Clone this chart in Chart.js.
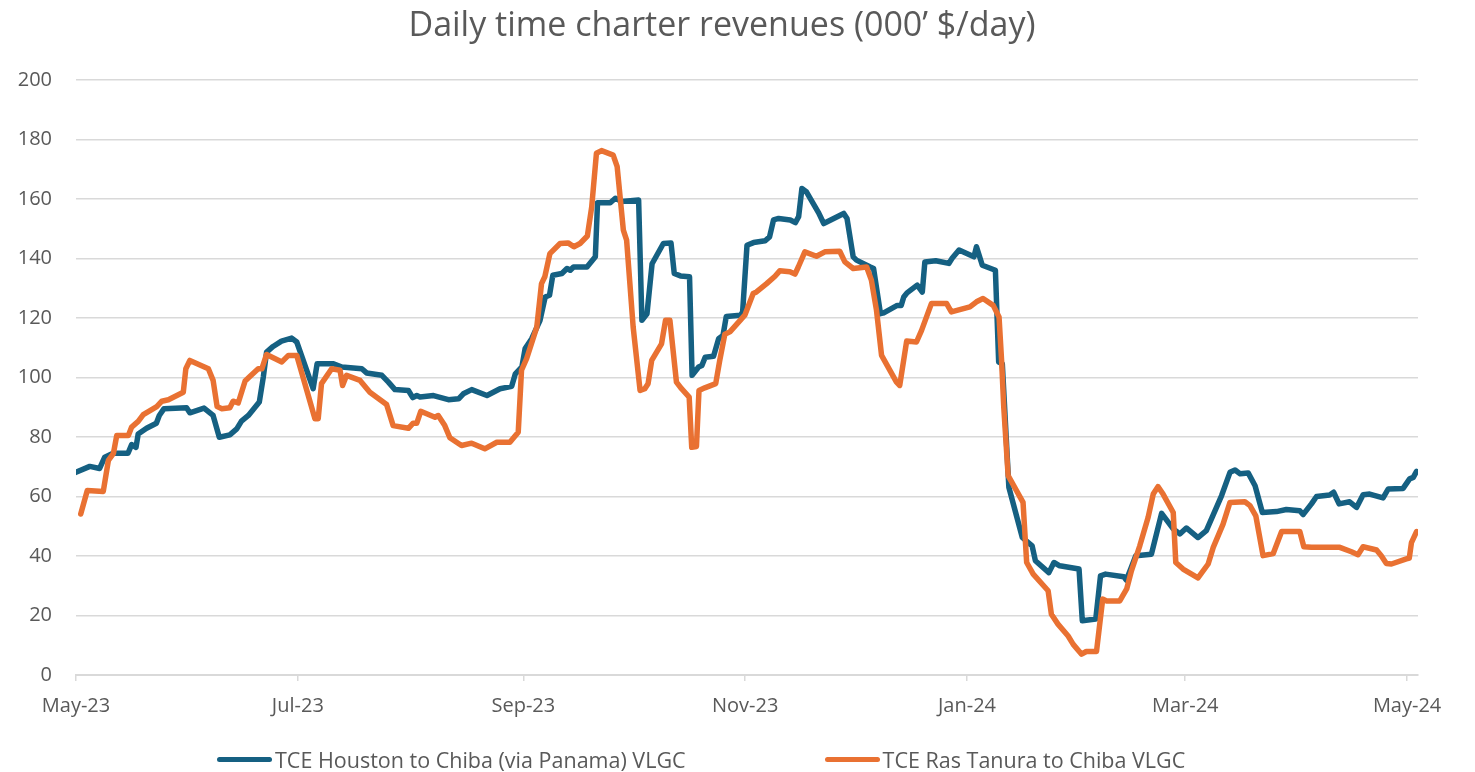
<!DOCTYPE html>
<html>
<head>
<meta charset="utf-8">
<script src="https://cdn.jsdelivr.net/npm/chart.js@4.4.1/dist/chart.umd.min.js"></script>
<style>
  html, body { margin: 0; padding: 0; background: #fff; }
  #wrap { position: relative; width: 1475px; height: 772px; }
  #legend { position: absolute; left: 217px; top: 745px; display: flex; gap: 139px; font-family: "Open Sans", sans-serif; font-size: 21.5px; color: #595959; }
  #legend .item { display: flex; align-items: center; white-space: nowrap; }
  #legend .swatch { width: 55px; height: 5px; border-radius: 3px; margin-right: 3px; }
</style>
</head>
<body>
<div id="wrap">
  <canvas id="myChart" width="1475" height="772"></canvas>
  <div id="legend"></div>
</div>
<script>
// days counted from 1 May 2023
const monthDays = [0, 61, 123, 184, 245, 305, 366];
const monthLabels = ["May-23", "Jul-23", "Sep-23", "Nov-23", "Jan-24", "Mar-24", "May-24"];

const houstonDays = [0, 3.8, 6.5, 7.9, 10.2, 14.3, 15.3, 16.5, 17.1, 19.4, 22.1, 22.9, 24.2, 30.4, 31.3, 35.2, 37.7, 39.4,
  42.3, 44.2, 45.5, 47.4, 50.4, 51.5, 52.4, 54.2, 56.5, 59.3, 60.7, 65.2, 66.3, 70.8, 73.1, 78.6, 79.9, 84.1,
  85.9, 87.7, 91.4, 92.6, 93.7, 94.6, 98.3, 102.4, 105.2, 106.5, 108.8, 113, 116.6, 119.8, 120.8, 122.6, 123.5,
  125.3, 127.6, 129, 130.2, 131.1, 133.6, 135, 135.9, 136.8, 140.5, 142.8, 143.4, 146.9, 148.3, 150.1, 154.7,
  155.6, 157, 158.4, 161.5, 163.6, 164.5, 166.2, 168.7, 169.4, 171.2, 172.1, 173, 175.3, 176.7, 177.9, 178.8,
  182.7, 183.3, 184.5, 186.3, 189.5, 190.7, 191.8, 193.2, 196.4, 197.8, 198.7, 199.6, 200.8, 204.2, 205.6,
  211.1, 212, 213.7, 214.6, 218.4, 219.3, 221.2, 222.1, 225.8, 226.9, 227.6, 228.5, 231.3, 232.7, 233.4,
  236.4, 240, 240.9, 242.8, 246.9, 247.6, 249.2, 252.8, 253.7, 254.7, 256.5, 260.2, 262.9, 263.8, 267.5,
  268.9, 270.5, 275.8, 276.7, 280.4, 281.7, 283.1, 288.1, 288.8, 290, 291.4, 295.7, 298.5, 301.7, 303.5,
  305.3, 308.5, 310.8, 315, 317.3, 318.7, 320.1, 322.3, 324.2, 326.2, 330.1, 332.8, 336.5, 337.4, 339.7,
  341.1, 344.7, 345.8, 347.3, 350.2, 352.1, 353.9, 355.7, 359.4, 360.8, 364.9, 366.7, 367.7, 368.6];
const houstonVals = [68.1, 70.1, 69.4, 73.2, 74.5, 74.5, 77.4, 76.5, 81, 82.9, 84.6, 87.2, 89.5, 89.8, 88.1, 89.7, 87.2, 79.9,
  80.7, 82.7, 85.3, 87.2, 91.7, 100.1, 108.5, 110.4, 112.2, 113.2, 111.9, 96.2, 104.6, 104.6, 103.5, 102.9, 101.5, 100.7,
  98.4, 95.9, 95.6, 93.2, 93.9, 93.4, 93.9, 92.5, 92.8, 94.5, 95.9, 93.9, 96.2, 97, 101.2, 103.5, 109.7,
  113, 119.2, 127, 127.6, 134.3, 134.9, 136.6, 136, 137.1, 137.1, 140.5, 158.7, 158.7, 160.2, 159.1, 159.6,
  119.2, 121.4, 138.2, 145, 145.2, 134.9, 134.1, 133.8, 100.7, 103.5, 104, 106.8, 107.1, 113, 114.1, 120.5,
  120.9, 122, 144.4, 145.3, 145.9, 147.2, 152.9, 153.4, 152.9, 152, 154, 163.5, 162.4, 155.3, 151.7,
  155.1, 153.4, 140.5, 139.4, 137.1, 136.6, 121.4, 121.7, 124.2, 124.2, 127, 128.4, 131, 128.7, 138.8,
  139.2, 138.3, 140, 142.8, 140.5, 143.9, 137.7, 136, 105.2, 104.6, 63.1, 46.2, 43.4, 38.4, 34.4,
  37.8, 36.7, 35.6, 18.2, 18.8, 33.3, 33.9, 33, 31.9, 35.6, 40.1, 40.6, 54.3, 49.1, 47.4,
  49.4, 46.2, 48.5, 60.3, 68.1, 68.9, 67.6, 67.9, 63.6, 54.6, 54.9, 55.6, 55.2, 53.9, 57.5,
  60, 60.5, 61.4, 57.5, 58.2, 56.3, 60.6, 60.8, 59.5, 62.5, 62.7, 65.9, 66.4, 68.4];

const rasDays = [1.3, 3.1, 7.5, 8.9, 10.3, 11.2, 14.4, 15.3, 17.1, 18.5, 22.2, 23.6, 25.4, 29.5, 30.2, 31.3, 36.4, 37.7,
  38.8, 40.1, 42.3, 43.2, 44.6, 46.5, 47.8, 50.1, 51.1, 52.4, 56.6, 58.4, 60.7, 65.7, 66.6, 67.5, 70.3, 72.6,
  73.3, 74.4, 78.1, 80.8, 85.4, 87.2, 91.4, 92.7, 93.7, 94.8, 98.7, 99.6, 101.4, 102.8, 106, 108.8, 112.4,
  115.7, 119.3, 121.6, 122.5, 123.9, 126.7, 128, 128.9, 130.3, 133.1, 135.3, 136.9, 138.6, 140.6, 141.8,
  143.1, 144.5, 147.7, 148.8, 150.5, 151.4, 153.2, 155.1, 156.4, 157.3, 158.3, 161, 162.1, 163.3, 165.1,
  166.5, 168.6, 169.3, 170.6, 171.3, 172.9, 175.9, 177, 178.4, 179.8, 183.9, 186.2, 187.1, 189.9, 192.2,
  193.5, 196.3, 197.7, 198.6, 200.4, 203.6, 205.9, 210, 211.4, 213.7, 217.4, 218.7, 220.1, 221.5, 225.6,
  226.5, 228.4, 231.1, 232.5, 235.2, 239.4, 240.7, 245.8, 247.6, 249.4, 252.2, 253.8, 254.5, 255.1, 256.3,
  260.4, 261.4, 263.2, 267.3, 268.2, 270, 272.8, 274.2, 276.5, 277.8, 280.6, 282.3, 283.4, 287, 288.9,
  290.2, 292.5, 294.8, 296.2, 297.5, 298.9, 301.7, 302.4, 304.4, 308.5, 311.3, 312.7, 315.4, 317.3, 321.4,
  322.8, 324.4, 326.4, 329.2, 331.5, 336.5, 337.6, 339.7, 347.5, 350.7, 352.5, 353.9, 357.6, 358.9, 360.3,
  361.7, 365.8, 366.6, 367.2, 368.6];
const rasVals = [54.1, 62, 61.7, 72.1, 74.5, 80.5, 80.5, 83.3, 85.2, 87.5, 90.2, 92, 92.5, 95, 102.9, 105.7, 102.9, 99,
  90.2, 89.5, 89.8, 92, 91.4, 98.8, 100.3, 102.9, 102.9, 107.7, 105.2, 107.4, 107.4, 86.1, 86.1, 97.9, 102.9, 102.4,
  97.3, 100.7, 99, 95, 90.9, 83.8, 82.9, 84.6, 84.6, 88.6, 86.6, 87.2, 83.8, 79.7, 77.1, 77.9, 76,
  78.2, 78.2, 81.6, 102.4, 106.3, 116.9, 131.5, 133.8, 141.6, 145, 145.2, 143.9, 145, 147.5, 157.3,
  175.3, 176.2, 174.7, 170.8, 149.5, 146.1, 116.9, 95.6, 96.2, 97.9, 105.7, 111.3, 119.2, 119.2, 98.4,
  96.2, 93.4, 76.5, 76.8, 95.6, 96.5, 97.9, 105.7, 114.5, 115.3, 120.9, 128.2, 128.7, 131.5, 134,
  135.8, 135.5, 134.7, 137.1, 142.2, 140.7, 142.2, 142.4, 138.8, 136.6, 137.1, 132.7, 122.6, 107.4, 98.4,
  97.3, 112.2, 111.9, 115.8, 124.8, 124.8, 122, 123.7, 125.4, 126.5, 124.2, 120.3, 105.7, 90, 67,
  58, 37.8, 33.9, 28.3, 20.4, 17.1, 13.1, 10.3, 7, 7.9, 7.9, 25.5, 24.9, 24.9, 28.9,
  35, 43.4, 53, 60.8, 63.3, 60.8, 54.6, 37.8, 35.6, 32.6, 37.3, 42.9, 50.7, 58, 58.2,
  56.9, 53.5, 40.1, 40.8, 48.2, 48.2, 43.1, 42.9, 42.9, 41.4, 40.4, 43.1, 42, 40.1, 37.5,
  37.3, 39, 39.3, 44.5, 48.2];

const textColor = "#595959";
const gridColor = "#d9d9d9";
const fontFamily = "'Open Sans', sans-serif";

function toPoints(days, vals) {
  return days.map((d, i) => ({ x: d, y: vals[i] }));
}

// the title in the original sits a bit right of the canvas middle
const titleShift = {
  id: "titleShift",
  afterLayout(chart) {
    if (chart.titleBlock) chart.titleBlock.left = 26;
  }
};

const ctx = document.getElementById("myChart");

const chart = new Chart(ctx, {
  type: "line",
  data: {
    datasets: [
      {
        label: "TCE Houston to Chiba (via Panama) VLGC",
        data: toPoints(houstonDays, houstonVals),
        borderColor: "#156082",
        backgroundColor: "#156082",
        borderWidth: 5.5,
        order: 1
      },
      {
        label: "TCE Ras Tanura to Chiba VLGC",
        data: toPoints(rasDays, rasVals),
        borderColor: "#E97132",
        backgroundColor: "#E97132",
        borderWidth: 5.5,
        order: 0
      }
    ]
  },
  plugins: [titleShift],
  options: {
    responsive: false,
    animation: false,
    layout: { padding: { left: 0, right: 57, top: 0, bottom: 41 } },
    elements: {
      point: { radius: 0 },
      line: { tension: 0, borderJoinStyle: "round", borderCapStyle: "round" }
    },
    plugins: {
      legend: { display: false },
      tooltip: { enabled: false },
      title: {
        display: true,
        text: "Daily time charter revenues (000’ $/day)",
        color: textColor,
        font: { family: fontFamily, size: 34, weight: "normal" },
        padding: { top: 6, bottom: 33 }
      }
    },
    scales: {
      x: {
        type: "linear",
        min: 0,
        max: 369,
        afterBuildTicks: (axis) => {
          axis.ticks = monthDays.map((v) => ({ value: v }));
        },
        ticks: {
          autoSkip: false,
          maxRotation: 0,
          padding: 13,
          color: textColor,
          font: { family: fontFamily, size: 20 },
          callback: (value, index) => monthLabels[index]
        },
        grid: { drawOnChartArea: false, drawTicks: true, tickLength: 6, color: gridColor, lineWidth: 1.5 },
        border: { display: true, color: gridColor, width: 2 }
      },
      y: {
        min: 0,
        max: 200,
        afterFit: (axis) => { axis.width = 76; },
        ticks: {
          stepSize: 20,
          padding: 24,
          color: textColor,
          font: { family: fontFamily, size: 20 }
        },
        grid: { color: gridColor, lineWidth: 1.5, drawTicks: false },
        border: { display: false }
      }
    }
  }
});

// legend drawn as html below the canvas
const legendEl = document.getElementById("legend");
chart.data.datasets.forEach((ds) => {
  const item = document.createElement("div");
  item.className = "item";
  const sw = document.createElement("span");
  sw.className = "swatch";
  sw.style.background = ds.borderColor;
  const txt = document.createElement("span");
  txt.textContent = ds.label;
  item.appendChild(sw);
  item.appendChild(txt);
  legendEl.appendChild(item);
});
</script>
</body>
</html>
